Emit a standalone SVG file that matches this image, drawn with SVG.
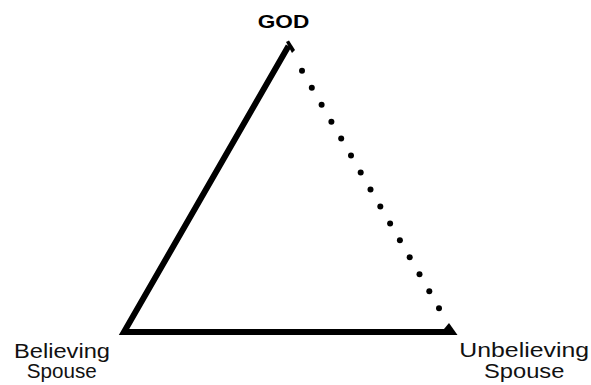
<svg xmlns="http://www.w3.org/2000/svg" width="591" height="385" viewBox="0 0 591 385">
<style>
.lbl{font-family:"Liberation Sans",Arial,sans-serif;font-size:19.5px;fill:#111;text-anchor:middle}
.god{font-family:"Liberation Sans",Arial,sans-serif;font-size:18.5px;font-weight:bold;fill:#000;text-anchor:middle}
.solid{stroke:#000;stroke-width:6;fill:none;stroke-linejoin:miter}
.dot{fill:#000}
</style>
<rect width="591" height="385" fill="#fff"/>
<g id="connectors">
<path class="solid" d="M288.5,46 L124,332 L448,332"/>
<path d="M286,42 L289,40.5 L295,50 L292,53 Z" fill="#000"/>
<path d="M444,329 L449,323 L457.5,335 L446,335 Z" fill="#000"/>
<g id="dotted">
<circle class="dot" cx="302" cy="70.7" r="3"/>
<circle class="dot" cx="311.8" cy="87.7" r="3"/>
<circle class="dot" cx="321.6" cy="104.7" r="3"/>
<circle class="dot" cx="331.4" cy="121.7" r="3"/>
<circle class="dot" cx="341.2" cy="138.6" r="3"/>
<circle class="dot" cx="351" cy="155.6" r="3"/>
<circle class="dot" cx="360.7" cy="172.5" r="3"/>
<circle class="dot" cx="370.5" cy="189.4" r="3"/>
<circle class="dot" cx="380.3" cy="206.4" r="3"/>
<circle class="dot" cx="390.1" cy="223.4" r="3"/>
<circle class="dot" cx="399.9" cy="240.3" r="3"/>
<circle class="dot" cx="409.7" cy="257.3" r="3"/>
<circle class="dot" cx="419.5" cy="274.3" r="3"/>
<circle class="dot" cx="429.3" cy="291.3" r="3"/>
<circle class="dot" cx="439" cy="308.3" r="3"/>
</g>
</g>
<g id="god"><text class="god" x="283.5" y="28.3" textLength="51.5" lengthAdjust="spacingAndGlyphs">GOD</text></g>
<g id="believing">
<text class="lbl" x="62" y="358.3" textLength="96" lengthAdjust="spacingAndGlyphs">Believing</text>
<text class="lbl" x="61.7" y="378.3" textLength="70" lengthAdjust="spacingAndGlyphs">Spouse</text>
</g>
<g id="unbelieving">
<text class="lbl" x="524.2" y="356.7" textLength="129.7" lengthAdjust="spacingAndGlyphs">Unbelieving</text>
<text class="lbl" x="524.2" y="378.3" textLength="80.3" lengthAdjust="spacingAndGlyphs">Spouse</text>
</g>
</svg>
